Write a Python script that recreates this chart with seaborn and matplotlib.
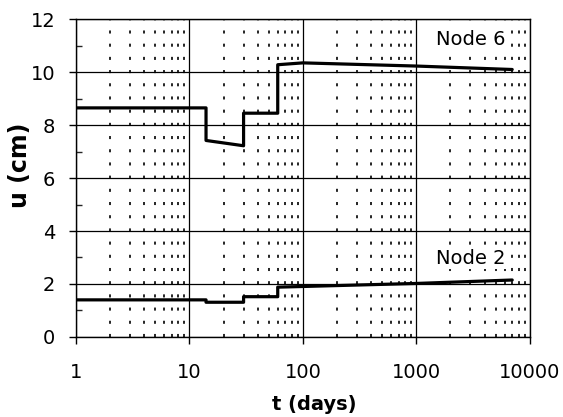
import matplotlib
matplotlib.use("Agg")
import matplotlib.pyplot as plt
import matplotlib.ticker as mticker
import seaborn as sns
import pandas as pd
import numpy as np

# Data (step vertices)
node6_t = [1, 14, 14, 30, 30, 60, 60, 100, 1000, 7000]
node6_u = [8.65, 8.65, 7.42, 7.22, 8.45, 8.45, 10.28, 10.35, 10.23, 10.1]
node2_t = [1, 14, 14, 30, 30, 60, 60, 1000, 7000]
node2_u = [1.40, 1.40, 1.31, 1.31, 1.52, 1.52, 1.88, 2.02, 2.15]
x_ticks = [1, 10, 100, 1000, 10000]
x_ticklabels = ["1", "10", "100", "1000", "10000"]
y_ticks = [0, 2, 4, 6, 8, 10, 12]
labels = ["Node 6", "Node 2"]

sns.set_style("ticks")
plt.rcParams["font.family"] = ["DejaVu Sans"]
plt.rcParams["lines.scale_dashes"] = False
plt.rcParams["text.color"] = "black"
plt.rcParams["axes.labelcolor"] = "black"

fig = plt.figure(figsize=(5.63, 4.17), dpi=100)
ax = fig.add_axes([0.135, 0.192, 0.806, 0.762])

df = pd.concat([
    pd.DataFrame({"t": node6_t, "u": node6_u, "node": labels[0]}),
    pd.DataFrame({"t": node2_t, "u": node2_u, "node": labels[1]}),
])

sns.lineplot(data=df, x="t", y="u", units="node", estimator=None, sort=False,
             color="black", linewidth=2.3, ax=ax, legend=False)

ax.set_xscale("log")
ax.set_xlim(1, 10000)
ax.set_ylim(0, 12)
ax.set_xticks(x_ticks)
ax.set_xticklabels(x_ticklabels)
ax.set_yticks(y_ticks)
ax.xaxis.set_minor_locator(mticker.LogLocator(base=10, subs=np.arange(2, 10)))
ax.xaxis.set_minor_formatter(mticker.NullFormatter())
ax.yaxis.set_minor_locator(mticker.MultipleLocator(1))

ax.grid(which="major", axis="both", color="black", linewidth=0.9, linestyle="-")
ax.grid(which="minor", axis="x", color="black", linewidth=1.2, linestyle=(0, (2.2, 7.3)))
ax.set_axisbelow(True)

for s in ax.spines.values():
    s.set_visible(True)
    s.set_color("black")
    s.set_linewidth(1.0)

ax.tick_params(axis="both", which="major", direction="out", length=5, width=1,
               labelsize=14, colors="black")
ax.tick_params(axis="x", which="major", pad=14)
ax.tick_params(axis="y", which="major", pad=10)
ax.tick_params(axis="x", which="minor", length=0)
ax.tick_params(axis="y", which="minor", direction="in", length=4, width=1)

ax.set_xlabel("t (days)", fontsize=14, fontweight="bold")
ax.set_ylabel("u (cm)", fontsize=17, fontweight="bold")
ax.xaxis.set_label_coords(0.524, -0.182)
ax.yaxis.set_label_coords(-0.097, 0.54)

ax.text(3000, 11.25, labels[0], fontsize=14, ha="center", va="center",
        bbox=dict(facecolor="white", edgecolor="none", pad=1))
ax.text(3000, 2.98, labels[1], fontsize=14, ha="center", va="center",
        bbox=dict(facecolor="white", edgecolor="none", pad=1))

fig.savefig("out.png", dpi=100, facecolor="white")
